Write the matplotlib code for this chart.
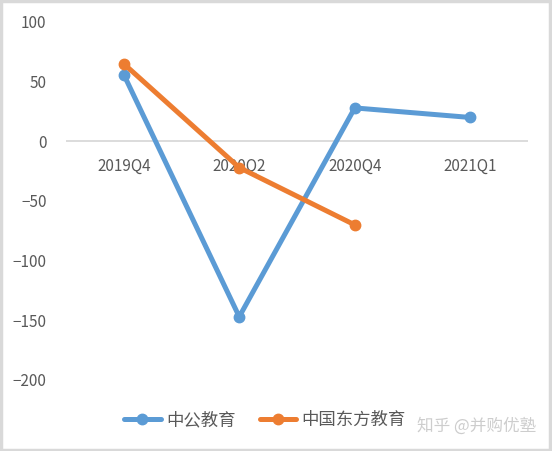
import matplotlib.pyplot as plt
from matplotlib.patches import Rectangle

plt.rcParams['font.family'] = ['Noto Sans CJK SC', 'DejaVu Sans']

# Data
quarters = ['2019Q4', '2020Q2', '2020Q4', '2021Q1']
offcn = [56, -147, 28, 20]          # 中公教育
neworiental = [65, -22, -70]        # 中国东方教育

BLUE = '#5B9BD5'
ORANGE = '#ED7D31'
TEXT = '#595959'

fig = plt.figure(figsize=(5.52, 4.51), dpi=100)
ax = fig.add_axes([66 / 552, 1 - 380 / 451, 462 / 552, 358 / 451])

x = list(range(len(quarters)))
ax.plot(x, offcn, color=BLUE, lw=3.6, marker='o', ms=7.5,
        solid_capstyle='round', label='中公教育', zorder=3)
ax.plot(x[:len(neworiental)], neworiental, color=ORANGE, lw=3.6, marker='o', ms=7.5,
        solid_capstyle='round', label='中国东方教育', zorder=3)

ax.axhline(0, color='#D9D9D9', lw=1.3, zorder=1)
ax.set_xlim(-0.5, len(quarters) - 0.5)
ax.set_ylim(-200, 100)
ax.set_yticks(range(-200, 101, 50))
ax.set_xticks([])
for s in ax.spines.values():
    s.set_visible(False)
ax.tick_params(axis='y', length=0, pad=14, labelsize=11, labelcolor=TEXT)

for i, q in enumerate(quarters):
    ax.text(i, -21, q, ha='center', va='center', fontsize=11, color=TEXT, zorder=2)

leg = fig.legend(loc='center', bbox_to_anchor=(0.48, 1 - 420 / 451), ncol=2,
                 frameon=False, fontsize=12.5, handlelength=2.1, columnspacing=1.4,
                 handletextpad=0.3)
for t in leg.get_texts():
    t.set_color(TEXT)

# watermark
fig.text(0.755, 1 - 426 / 451, '知乎 @并购优塾', fontsize=12, color='#C8C8C8',
         ha='left', va='center', alpha=0.9, zorder=5)

# outer border
fig.patches.append(Rectangle((0.002, 0.003), 0.995, 0.994, transform=fig.transFigure,
                             fill=False, edgecolor='#D9D9D9', lw=2.5))

fig.savefig('out.png', dpi=100)
